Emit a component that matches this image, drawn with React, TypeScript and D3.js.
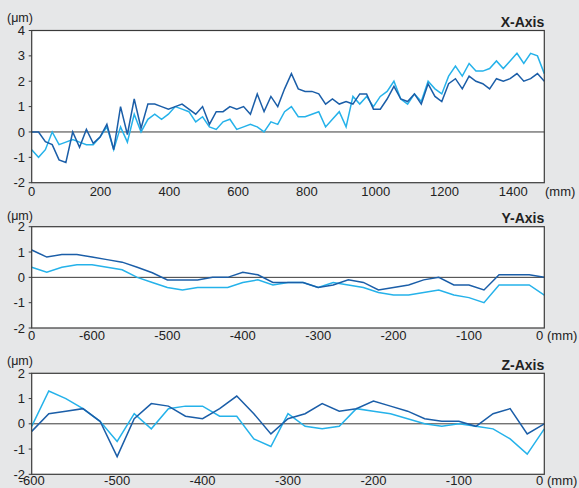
import React from "react";
import * as d3 from "d3";

// ---------- DATA ----------
// X-Axis panel: 76 samples along 0..~1490 mm
const X_STEP_MM = 19.87;
const xDark = [
  0, 0, -0.38, -0.5, -1.1, -1.2, 0, -0.6, 0.1, -0.45, -0.2, 0.3, -0.7, 1.0, -0.1, 1.3, 0.15, 1.1, 1.1, 1.0,
  0.9, 1.0, 1.1, 0.9, 0.7, 1.0, 0.3, 0.8, 0.8, 1.0, 0.9, 1.0, 0.7, 1.5, 0.8, 1.4, 1.0, 1.7, 2.3, 1.7,
  1.6, 1.6, 1.5, 1.1, 1.3, 1.1, 1.2, 1.1, 1.5, 1.5, 0.9, 0.9, 1.3, 1.8, 1.3, 1.2, 1.5, 1.1, 1.9, 1.4,
  1.2, 1.9, 2.1, 1.7, 2.2, 2.0, 1.9, 1.7, 2.1, 2.0, 2.1, 2.3, 2.0, 2.1, 2.3, 2.0,
];
const xLight = [
  -0.7, -1.0, -0.7, 0, -0.5, -0.4, -0.3, -0.4, -0.5, -0.5, -0.2, 0.2, -0.7, 0.2, -0.4, 0.7, 0, 0.5, 0.7, 0.5,
  0.7, 1.0, 0.9, 0.8, 0.4, 0.6, 0.2, 0.1, 0.4, 0.5, 0.1, 0.2, 0.3, 0.2, 0, 0.4, 0.3, 0.8, 1.0, 0.6,
  0.6, 0.7, 0.8, 0.2, 0.5, 0.8, 0.2, 1.4, 1.1, 1.4, 1.0, 1.4, 1.6, 2.0, 1.3, 1.1, 1.5, 1.2, 2.0, 1.7,
  1.5, 2.2, 2.6, 2.2, 2.7, 2.4, 2.4, 2.5, 2.8, 2.5, 2.8, 3.1, 2.7, 3.1, 3.0, 2.3,
];
const xTickValues = [0, 200, 400, 600, 800, 1000, 1200, 1400];
const xTickLabels = ["0", "200", "400", "600", "800", "1000", "1200", "1400"];

// Y-Axis panel: samples every 20 mm from -680 to 0
const Y_START_MM = -680;
const Y_STEP_MM = 20;
const yDark = [
  1.08, 0.8, 0.9, 0.9, 0.8, 0.7, 0.6, 0.4, 0.18, -0.1, -0.1, -0.1, 0, 0, 0.2, 0.1, -0.2, -0.2,
  -0.2, -0.4, -0.3, -0.1, -0.2, -0.5, -0.4, -0.3, -0.1, 0, -0.3, -0.3, -0.5, 0.1, 0.1, 0.1, 0,
];
const yLight = [
  0.4, 0.2, 0.4, 0.5, 0.5, 0.4, 0.3, 0.0, -0.2, -0.4, -0.5, -0.4, -0.4, -0.4, -0.2, -0.1, -0.3, -0.2,
  -0.2, -0.4, -0.2, -0.3, -0.4, -0.6, -0.7, -0.7, -0.6, -0.5, -0.7, -0.8, -1.0, -0.3, -0.3, -0.3, -0.7,
];
const yTickValues = [-680, -600, -500, -400, -300, -200, -100, 0];
const yTickLabels = ["0", "-600", "-500", "-400", "-300", "-200", "-100", "0"];

// Z-Axis panel: samples every 20 mm from -600 to 0
const Z_START_MM = -600;
const Z_STEP_MM = 20;
const zDark = [
  -0.3, 0.4, 0.5, 0.6, 0.1, -1.3, 0.2, 0.8, 0.7, 0.3, 0.2, 0.6, 1.1, 0.4, -0.4, 0.2,
  0.4, 0.8, 0.5, 0.6, 0.9, 0.7, 0.5, 0.2, 0.1, 0.1, -0.1, 0.4, 0.6, -0.4, 0,
];
const zLight = [
  -0.1, 1.3, 1.0, 0.6, 0.1, -0.7, 0.4, -0.2, 0.6, 0.7, 0.7, 0.3, 0.3, -0.6, -0.9, 0.4,
  -0.1, -0.2, -0.1, 0.6, 0.5, 0.4, 0.2, 0.0, -0.1, 0.0, -0.1, -0.2, -0.6, -1.2, -0.2,
];
const zTickValues = [-600, -500, -400, -300, -200, -100, 0];
const zTickLabels = ["-600", "-500", "-400", "-300", "-200", "-100", "0"];

const panelTitles = ["X-Axis", "Y-Axis", "Z-Axis"];
const valueTicksX = [4, 3, 2, 1, 0, -1, -2];
const valueTicksYZ = [2, 1, 0, -1, -2];

// ---------- STYLE / LAYOUT ----------
const W = 579;
const H = 488;
const BG = "#e6e7e8";
const DARK = "#1b5ea8";
const LIGHT = "#25b2ea";
const AXIS = "#3a3a3a";
const FONT = "'Liberation Sans', Arial, Helvetica, sans-serif";
const LEFT = 31.7;
const RIGHT = 544.3;

type Panel = {
  title: string;
  top: number;
  bottom: number;
  xDomain: [number, number];
  yDomain: [number, number];
  xTicks: number[];
  xLabels: string[];
  yTicks: number[];
  dark: number[];
  light: number[];
  xs: number[];
  labelOffset: number;
  unitOffset: number;
  lastAtEdge: boolean;
};

const panels: Panel[] = [
  {
    title: panelTitles[0],
    top: 30.5,
    bottom: 182.7,
    xDomain: [0, 75 * X_STEP_MM],
    yDomain: [-2, 4],
    xTicks: xTickValues,
    xLabels: xTickLabels,
    yTicks: valueTicksX,
    dark: xDark,
    light: xLight,
    xs: xDark.map((_, i) => i * X_STEP_MM),
    labelOffset: 13,
    unitOffset: 8.5,
    lastAtEdge: false,
  },
  {
    title: panelTitles[1],
    top: 226.7,
    bottom: 328,
    xDomain: [-680, 0],
    yDomain: [-2, 2],
    xTicks: yTickValues,
    xLabels: yTickLabels,
    yTicks: valueTicksYZ,
    dark: yDark,
    light: yLight,
    xs: yDark.map((_, i) => Y_START_MM + i * Y_STEP_MM),
    labelOffset: 12,
    unitOffset: 6.5,
    lastAtEdge: true,
  },
  {
    title: panelTitles[2],
    top: 373.3,
    bottom: 474.3,
    xDomain: [-600, 0],
    yDomain: [-2, 2],
    xTicks: zTickValues,
    xLabels: zTickLabels,
    yTicks: valueTicksYZ,
    dark: zDark,
    light: zLight,
    xs: zDark.map((_, i) => Z_START_MM + i * Z_STEP_MM),
    labelOffset: 11,
    unitOffset: 8,
    lastAtEdge: true,
  },
];

function PanelView({ p }: { p: Panel }) {
  const x = d3.scaleLinear().domain(p.xDomain).range([LEFT, RIGHT]);
  const y = d3.scaleLinear().domain(p.yDomain).range([p.bottom, p.top]);
  const line = d3
    .line<number>()
    .x((_, i) => x(p.xs[i]))
    .y((d) => y(d));
  const labelY = p.bottom + p.labelOffset;
  const n = p.xTicks.length;
  return (
    <g>
      <rect x={LEFT} y={p.top} width={RIGHT - LEFT} height={p.bottom - p.top} fill="#fff" />
      <line x1={LEFT} x2={RIGHT} y1={y(0)} y2={y(0)} stroke={AXIS} strokeWidth={1} />
      <path d={line(p.light) || ""} fill="none" stroke={LIGHT} strokeWidth={1.5} strokeLinejoin="miter" />
      <path d={line(p.dark) || ""} fill="none" stroke={DARK} strokeWidth={1.5} strokeLinejoin="miter" />
      <rect
        x={LEFT}
        y={p.top}
        width={RIGHT - LEFT}
        height={p.bottom - p.top}
        fill="none"
        stroke={AXIS}
        strokeWidth={1.2}
      />
      {p.yTicks.map((t) => (
        <g key={t}>
          <line x1={LEFT - 3} x2={LEFT} y1={y(t)} y2={y(t)} stroke={AXIS} strokeWidth={1} />
          <text x={25} y={y(t) + 4.6} textAnchor="end" fontSize={13} fill="#222">
            {t}
          </text>
        </g>
      ))}
      {p.xTicks.map((t, i) => {
        const edge = p.lastAtEdge && i === n - 1;
        return (
          <text
            key={i}
            x={edge ? x(t) - 1 : x(t)}
            y={labelY}
            textAnchor={edge ? "end" : "middle"}
            fontSize={13}
            fill="#222"
          >
            {p.xLabels[i]}
          </text>
        );
      })}
      <text x={p.lastAtEdge ? 547 : 545} y={labelY} fontSize={13} fill="#222">
        (mm)
      </text>
      <text x={7} y={p.top - p.unitOffset} fontSize={12.5} fill="#222">
        (μm)
      </text>
      <text x={RIGHT} y={p.top - 3.6} textAnchor="end" fontSize={14} fontWeight="bold" fill="#222">
        {p.title}
      </text>
    </g>
  );
}

export default function App() {
  return (
    <svg
      width={W}
      height={H}
      style={{ position: "absolute", left: 0, top: 0, fontFamily: FONT }}
      fontFamily={FONT}
    >
      <rect x={0} y={0} width={W} height={H} fill={BG} />
      {panels.map((p) => (
        <PanelView key={p.title} p={p} />
      ))}
    </svg>
  );
}
